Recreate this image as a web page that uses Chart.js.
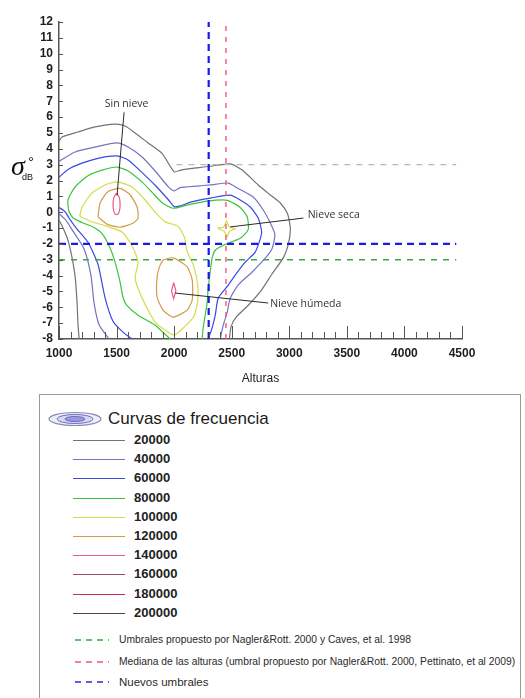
<!DOCTYPE html>
<html><head><meta charset="utf-8">
<script src="https://cdn.jsdelivr.net/npm/chart.js@4.4.0/dist/chart.umd.min.js"></script>
<style>
html,body{margin:0;padding:0;background:#fff;width:525px;height:698px;overflow:hidden;font-family:"Liberation Sans",Arial,sans-serif;}
#wrap{position:absolute;left:0;top:0;width:525px;height:390px;}
#legend{position:absolute;left:39px;top:394px;width:482px;height:330px;border:1.5px solid #9a9a9a;box-sizing:border-box;background:#fff;}
#legend .hdr{position:absolute;left:68px;top:14px;font-size:17px;color:#1a1a1a;line-height:20px;white-space:nowrap;}
#legend .ico{position:absolute;left:7px;top:16px;}
#legend .lv{position:absolute;left:94px;font-size:13px;font-weight:bold;color:#222;line-height:16px;white-space:nowrap;}
#legend .ln{position:absolute;left:33px;width:52px;height:1px;}
#legend .th{position:absolute;left:79px;font-size:10.3px;color:#2a2a2a;line-height:12px;white-space:nowrap;}
#legend svg.ds{position:absolute;left:35px;}
</style></head><body>
<div id="wrap"><canvas id="c"></canvas></div>
<div id="legend"></div>
<script>
// ---------- axis tick labels ----------
const xTickValues = [1000,1500,2000,2500,3000,3500,4000,4500];
const yTickValues = [-8,-7,-6,-5,-4,-3,-2,-1,0,1,2,3,4,5,6,7,8,9,10,11,12];

// ---------- contour levels ----------
const levels = [20000,40000,60000,80000,100000,120000,140000,160000,180000,200000];
const levelColors = ['#727278','#7474c2','#3a48e4','#3cc43c','#d4dc48','#d79a4c','#ee5c80','#9a4a6a','#c8304e','#5c3a5c'];

// ---------- contour lines (x = altura, y = sigma0 dB) ----------
const c20000_upper = [[1000,4.5],[1026,4.74],[1165,5.06],[1313,5.38],[1487,5.56],[1574,5.44],[1661,5.0],[1774,4.37],[1896,3.7],[2000,2.55],[2060,2.66],[2200,2.8],[2313,2.9],[2487,3.05],[2591,2.66],[2730,1.72],[2835,1.09],[2922,0.58],[2985,-0.1],[3009,-1.0],[2995,-1.9],[2950,-2.85],[2850,-3.9],[2750,-5.0],[2640,-5.9],[2540,-6.6],[2495,-7.2],[2480,-8]];
const c20000_lower = [[1000,-0.5],[1026,-0.85],[1070,-1.6],[1100,-2.4],[1139,-4.0],[1157,-5.7],[1165,-7.1],[1175,-8]];
const c40000_upper = [[1000,3.2],[1139,3.8],[1313,4.11],[1504,4.37],[1600,4.11],[1722,3.48],[1835,2.6],[1950,1.6],[2000,1.35],[2052,1.55],[2200,1.65],[2313,1.72],[2470,1.84],[2548,1.53],[2687,0.96],[2774,0.14],[2835,-0.68],[2875,-1.4],[2850,-2.3],[2791,-2.9],[2678,-3.77],[2557,-4.59],[2487,-5.42],[2461,-6.31],[2426,-7.13],[2400,-8]];
const c40000_lower = [[1000,-0.1],[1060,-0.5],[1113,-1.1],[1217,-2.3],[1278,-4.0],[1304,-5.7],[1348,-7.1],[1435,-8]];
const c60000_upper = [[1000,2.2],[1078,2.7],[1200,3.1],[1339,3.4],[1504,3.55],[1600,3.3],[1722,2.5],[1835,1.7],[1948,0.8],[2000,0.35],[2052,0.4],[2150,0.65],[2313,0.89],[2487,1.08],[2574,0.77],[2661,0.33],[2730,-0.37],[2760,-1.3],[2704,-2.52],[2617,-3.15],[2530,-3.97],[2470,-4.6],[2383,-5.42],[2357,-6.5],[2330,-7.3],[2296,-8]];
const c60000_lower = [[1000,0.3],[1050,0.05],[1090,-0.4],[1150,-1.0],[1252,-1.9],[1339,-3.3],[1400,-5.4],[1470,-6.9],[1560,-7.6],[1635,-8]];
const c80000 = [[1965,-8],[1835,-7.13],[1687,-6.5],[1591,-5.9],[1557,-5.4],[1530,-4.4],[1487,-3.15],[1440,-2.2],[1374,-1.35],[1300,-0.95],[1200,-0.65],[1120,-0.35],[1085,0.1],[1078,0.77],[1139,1.59],[1252,2.3],[1374,2.65],[1504,2.85],[1600,2.6],[1722,1.9],[1809,1.25],[1896,0.6],[1990,0.25],[2113,0.45],[2287,0.7],[2461,0.75],[2574,0.3],[2635,-0.3],[2643,-1.1],[2574,-1.65],[2426,-2.08],[2357,-2.4],[2330,-2.9],[2313,-3.77],[2296,-4.79],[2287,-5.67],[2270,-6.5],[2252,-7.3],[2243,-8]];
const c100000 = [[1180,-0.25],[1200,0.33],[1287,1.21],[1400,1.72],[1504,1.91],[1635,1.59],[1748,0.77],[1835,0.0],[1922,-0.6],[2035,-0.9],[2090,-1.6],[2110,-2.4],[2170,-3.4],[2205,-4.6],[2205,-5.6],[2170,-6.6],[2080,-7.3],[2000,-7.75],[1922,-7.44],[1835,-6.93],[1722,-5.42],[1661,-4.16],[1687,-3.15],[1640,-2.2],[1548,-1.25],[1400,-0.85],[1280,-0.6],[1180,-0.25]];
const c100000_seca = [[2375,-1.0],[2430,-0.95],[2455,-0.55],[2475,-0.9],[2530,-1.05],[2480,-1.2],[2460,-1.55],[2435,-1.2],[2375,-1.0]];
const c120000_sin = [[1339,-0.3],[1357,0.58],[1426,1.3],[1530,1.5],[1617,1.1],[1678,0.33],[1687,-0.37],[1643,-0.7],[1530,-0.95],[1417,-0.75],[1339,-0.3]];
const c120000_hum = [[1904,-3.01],[1991,-2.88],[2113,-3.45],[2157,-4.27],[2157,-5.54],[2113,-6.18],[1991,-6.62],[1904,-6.18],[1852,-5.35],[1852,-4.09],[1878,-3.34],[1904,-3.01]];
const c140000_sin = [[1500,1.2],[1525,0.9],[1530,0.3],[1515,-0.1],[1500,-0.15],[1485,-0.1],[1470,0.3],[1475,0.9],[1500,1.2]];
const c140000_hum = [[1996,-4.45],[2015,-4.95],[1996,-5.45],[1977,-4.95],[1996,-4.45]];

// ---------- thresholds ----------
const thrNuevoAltura = 2300;   // blue vertical
const thrMediana = 2450;       // red vertical
const thrNuevoSigma = -2;      // blue horizontal
const thrNaglerSigma = -3;     // green horizontal
const thrGris = 3;             // light gray horizontal
const thrLabels = ['Umbrales propuesto por Nagler&Rott. 2000 y Caves, et al. 1998','Mediana de las alturas (umbral propuesto por Nagler&Rott. 2000, Pettinato, et al 2009)','Nuevos umbrales'];
const thrColors = ['#3aa83a','#f05a78','#2a2ad8'];

// ---------- annotations ----------
const annotations = [
  {text:'Sin nieve', from:[1565,6.3], to:[1504,1.05], at:[1587,6.83], align:'center'},
  {text:'Nieve seca', from:[3122,-0.37], to:[2487,-0.93], at:[3160,-0.2], align:'left'},
  {text:'Nieve húmeda', from:[2817,-5.73], to:[2009,-5.1], at:[2835,-5.8], align:'left'}
];

const pts = a => a.map(p => ({x:p[0], y:p[1]}));
function contour(arr, li, tension){
  return {data:pts(arr), borderColor:levelColors[li], borderWidth:1.2, showLine:true, pointRadius:0, fill:false, tension:tension===undefined?0.2:tension};
}
function dashLine(arr, color, width, dash){
  return {data:pts(arr), borderColor:color, borderWidth:width, borderDash:dash, showLine:true, pointRadius:0, fill:false, tension:0};
}

const datasets = [
  dashLine([[thrNuevoAltura,-8],[thrNuevoAltura,12]], '#1a1ae6', 2.2, [7,5]),
  dashLine([[1000,thrNuevoSigma],[4450,thrNuevoSigma]], '#1a1ae6', 2.2, [7,5]),
  dashLine([[thrMediana,-8],[thrMediana,12]], '#f05a78', 1.4, [5,6]),
  dashLine([[1000,thrNaglerSigma],[4450,thrNaglerSigma]], '#3aa83a', 1.5, [6,6]),
  dashLine([[2020,thrGris],[4450,thrGris]], '#b8b8b8', 1.2, [6,6]),
  contour(c140000_sin,6,0.3),
  contour(c140000_hum,6,0),
  contour(c120000_sin,5),
  contour(c120000_hum,5),
  contour(c100000,4),
  contour(c100000_seca,4,0),
  contour(c80000,3),
  contour(c60000_upper,2),
  contour(c60000_lower,2),
  contour(c40000_upper,1),
  contour(c40000_lower,1),
  contour(c20000_upper,0),
  contour(c20000_lower,0)
];

const overlay = {
  id:'overlay',
  afterDatasetsDraw(chart){
    const {ctx, scales:{x,y}} = chart;
    ctx.save();
    ctx.strokeStyle='#2a2a2a'; ctx.lineWidth=1;
    annotations.forEach(a=>{
      ctx.beginPath();
      ctx.moveTo(x.getPixelForValue(a.from[0]), y.getPixelForValue(a.from[1]));
      ctx.lineTo(x.getPixelForValue(a.to[0]), y.getPixelForValue(a.to[1]));
      ctx.stroke();
      ctx.font='10.5px "Open Sans"'; ctx.fillStyle='#333'; ctx.textAlign=a.align; ctx.textBaseline='middle';
      ctx.fillText(a.text, x.getPixelForValue(a.at[0]), y.getPixelForValue(a.at[1]));
    });
    ctx.restore();
  },
  afterDraw(chart){
    const {ctx, scales:{x,y}, chartArea} = chart;
    ctx.save();
    ctx.strokeStyle='#555'; ctx.lineWidth=1;
    yTickValues.forEach(v=>{
      const py = Math.round(y.getPixelForValue(v))+0.5;
      ctx.beginPath(); ctx.moveTo(chartArea.left, py); ctx.lineTo(chartArea.left+4, py); ctx.stroke();
    });
    for (let v=xTickValues[0]; v<=xTickValues[xTickValues.length-1]; v+=100){
      const px = Math.round(x.getPixelForValue(v))+0.5;
      const len = (v%500===0)?13:7;
      ctx.beginPath(); ctx.moveTo(px, chartArea.bottom); ctx.lineTo(px, chartArea.bottom-len); ctx.stroke();
    }
    ctx.fillStyle='#111'; ctx.textBaseline='alphabetic'; ctx.textAlign='left';
    ctx.font='italic 28px "Liberation Serif"'; ctx.fillText('σ', 11, 175);
    ctx.font='15px "Liberation Sans"'; ctx.fillText('°', 28, 167);
    ctx.font='9px "Liberation Sans"'; ctx.fillText('dB', 22, 180);
    ctx.restore();
  }
};

const tickFont = {family:'"Liberation Sans", Arial, sans-serif', size:12, weight:'bold'};
new Chart(document.getElementById('c'), {
  type:'scatter',
  data:{datasets},
  options:{
    responsive:true, maintainAspectRatio:false, animation:false,
    layout:{padding:{left:0,right:63,top:22,bottom:0}},
    plugins:{legend:{display:false}, tooltip:{enabled:false}},
    scales:{
      x:{type:'linear', min:1000, max:4500,
         afterBuildTicks:s=>{ s.ticks = xTickValues.map(v=>({value:v})); },
         afterFit:s=>{ s.height = 51; },
         grid:{display:false, drawTicks:false},
         border:{display:true, color:'#555', width:1.5},
         ticks:{font:tickFont, color:'#1e1e1e', padding:7, maxRotation:0, autoSkip:false, callback:v=>String(v)},
         title:{display:true, text:'Alturas', font:{family:'"Liberation Sans", Arial, sans-serif', size:12}, color:'#222', padding:{top:0,bottom:4}}
      },
      y:{type:'linear', min:-8, max:12,
         afterBuildTicks:s=>{ s.ticks = yTickValues.map(v=>({value:v})); },
         afterFit:s=>{ s.width = 59; },
         grid:{display:false, drawTicks:false},
         border:{display:true, color:'#555', width:1.5},
         ticks:{font:tickFont, color:'#1e1e1e', padding:6, autoSkip:false, callback:v=>String(v)}
      }
    }
  },
  plugins:[overlay]
});

// ---------- HTML legend ----------
const lg = document.getElementById('legend');
let html = '<svg class="ico" width="56" height="16" viewBox="0 0 56 16">'+
  '<ellipse cx="28" cy="8" rx="26" ry="6.5" fill="#eeeef8" stroke="#8a8ab8" stroke-width="1.2"/>'+
  '<ellipse cx="28" cy="8" rx="18" ry="4.5" fill="#d8d8f0" stroke="#7070c0" stroke-width="1"/>'+
  '<ellipse cx="28" cy="8" rx="10" ry="2.5" fill="#9a9ae0" stroke="#5a5ab8" stroke-width="0.8"/></svg>';
html += '<div class="hdr">Curvas de frecuencia</div>';
levels.forEach((lv,i)=>{
  const cy = Math.round(45 + i*19.2);
  html += '<div class="ln" style="top:'+cy+'px;background:'+levelColors[i]+'"></div>';
  html += '<div class="lv" style="top:'+(cy-8)+'px">'+lv+'</div>';
});
const thrY = [245,267,287];
thrLabels.forEach((t,i)=>{
  html += '<svg class="ds" width="34" height="4" style="top:'+(thrY[i]-2)+'px"><line x1="0" y1="2" x2="34" y2="2" stroke="'+thrColors[i]+'" stroke-width="1.6" stroke-dasharray="6,5"/></svg>';
  const fs = i===2 ? 'font-size:11.5px;' : '';
  html += '<div class="th" style="'+fs+'top:'+(thrY[i]-6)+'px">'+t.replace(/&/g,'&amp;')+'</div>';
});
lg.innerHTML = html;
</script>
</body></html>
